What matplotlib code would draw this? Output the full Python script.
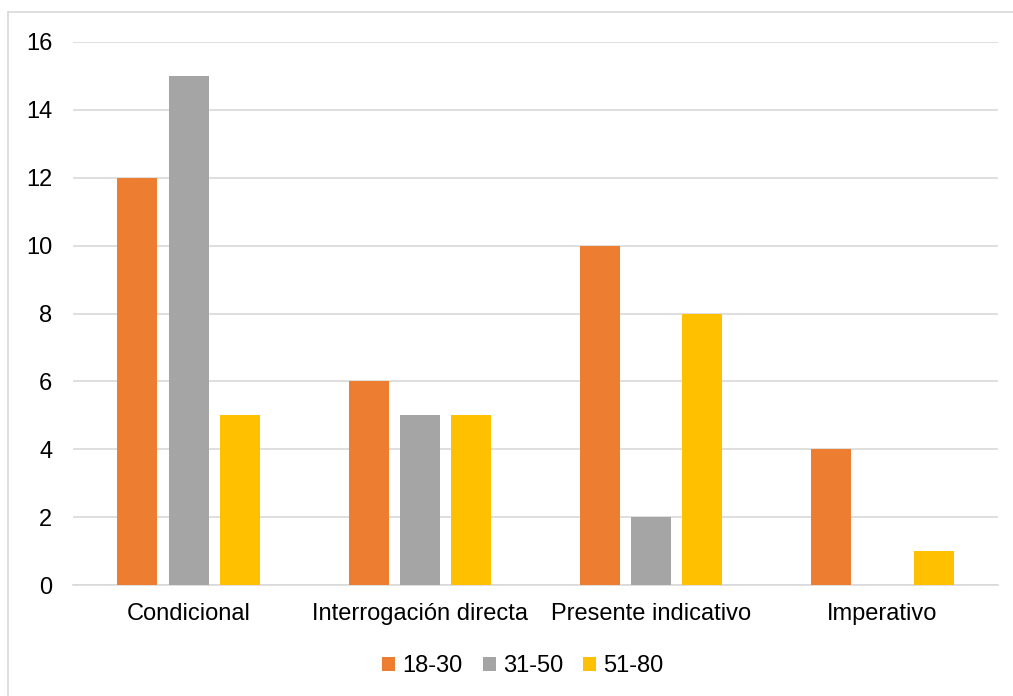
import matplotlib.pyplot as plt
import matplotlib.lines as mlines
import numpy as np

plt.rcParams['font.family'] = ['Liberation Sans', 'DejaVu Sans']

categorias = ['Condicional', 'Interrogación directa', 'Presente indicativo', 'Imperativo']
grupos = ['18-30', '31-50', '51-80']
v_18_30 = [12, 6, 10, 4]
v_31_50 = [15, 5, 2, 0]
v_51_80 = [5, 5, 8, 1]
colores = ['#ED7D31', '#A5A5A5', '#FFC000']

W, H = 1013, 696
fig = plt.figure(figsize=(W / 100, H / 100), dpi=100)
ax = fig.add_axes([73 / W, 1 - 585 / H, (998 - 73) / W, (585 - 42) / H])

x = np.arange(len(categorias))
ancho = 0.173
paso = 0.222
for i, (vals, lab) in enumerate(zip([v_18_30, v_31_50, v_51_80], grupos)):
    ax.bar(x + (i - 1) * paso, vals, ancho, color=colores[i], label=lab, zorder=3)

ax.set_xlim(-0.5, len(categorias) - 0.5)
ax.set_ylim(0, 16)
ax.set_yticks(range(0, 17, 2))
ax.set_xticks(x)
ax.set_xticklabels(categorias)
ax.yaxis.grid(True, color='#D9D9D9', linewidth=1.2, zorder=0)
for s in ['top', 'right', 'left']:
    ax.spines[s].set_visible(False)
ax.spines['bottom'].set_color('#D9D9D9')
ax.spines['bottom'].set_linewidth(1.2)
ax.tick_params(axis='both', length=0, labelsize=17, colors='black')
ax.tick_params(axis='y', pad=15)
ax.tick_params(axis='x', pad=13)

ax.legend(loc='center', bbox_to_anchor=(523 / W, 1 - 666 / H),
          bbox_transform=fig.transFigure, ncol=3, frameon=False,
          fontsize=17, handlelength=0.55, handleheight=0.55,
          handletextpad=0.3, columnspacing=0.85)

# borde del grafico (solo se ven izquierda y arriba)
fig.add_artist(mlines.Line2D([8 / W, 8 / W], [0, 1 - 12 / H], color='#D9D9D9', lw=1.2))
fig.add_artist(mlines.Line2D([8 / W, 1], [1 - 12 / H, 1 - 12 / H], color='#D9D9D9', lw=1.2))

fig.savefig('out.png', dpi=100)
